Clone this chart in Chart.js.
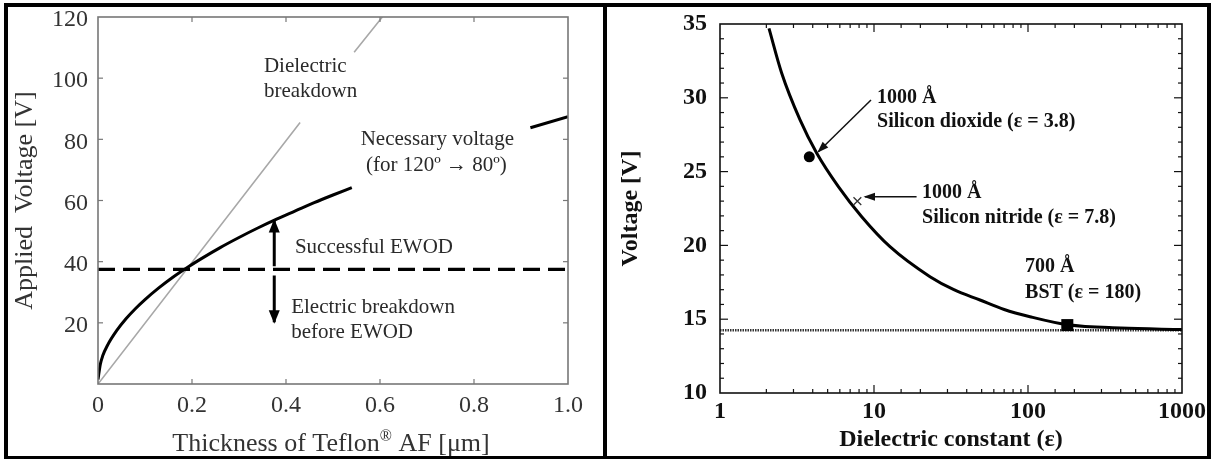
<!DOCTYPE html>
<html><head><meta charset="utf-8">
<script src="https://cdn.jsdelivr.net/npm/chart.js@4/dist/chart.umd.min.js"></script>
<style>
html,body{margin:0;padding:0;background:#fff;}
#wrap{position:relative;width:1212px;height:459px;overflow:hidden;background:#fff;}
#c1{position:absolute;left:0;top:0;}
#c2{position:absolute;left:604px;top:0;}
#frame{position:absolute;left:4px;top:3px;width:1207px;height:456px;box-sizing:border-box;border:4px solid #000;border-bottom-width:3px;pointer-events:none;}
#divider{position:absolute;left:603px;top:3px;width:4px;height:456px;background:#000;}
</style></head>
<body><div id="wrap"><canvas id="c1" width="604" height="459"></canvas><canvas id="c2" width="608" height="459"></canvas><div id="frame"></div><div id="divider"></div></div>
<script>
// ---------- LEFT PANEL DATA ----------
const thicknessTickLabels = ['0', '0.2', '0.4', '0.6', '0.8', '1.0'];
const voltageTickLabels = ['', '20', '40', '60', '80', '100', '120'];
const necessaryX = [0, 0.005, 0.01, 0.02, 0.04, 0.06, 0.08, 0.1, 0.13, 0.16, 0.19, 0.22, 0.26, 0.3, 0.34, 0.38, 0.42, 0.46, 0.5, 0.54, 0.7, 0.92, 1.0];
const necessaryY = [1.5, 6.5, 9.2, 12.6, 17.5, 21.4, 24.7, 27.6, 31.5, 35, 38.1, 41, 44.6, 47.9, 51, 53.9, 56.6, 59.3, 61.8, 64.2, null, 83.8, 87.4];
const breakdownX = [0, 0.43, 0.49, 0.545, 0.605];
const breakdownY = [0, 85.5, null, 108.5, 120];
const thresholdX = [0, 1.0];
const thresholdY = [37.5, 37.5];
const arrowUpX = [0.375, 0.375];
const arrowUpY = [38.5, 53.5];
const arrowDownX = [0.375, 0.375];
const arrowDownY = [35.5, 20.2];

// ---------- RIGHT PANEL DATA ----------
const epsTickLabels = {1: '1', 10: '10', 100: '100', 1000: '1000'};
const epsX = [2.08, 2.51, 3.31, 4.25, 5.87, 8.32, 12.7, 23.1, 33, 48.8, 70, 103, 182, 400, 1000];
const voltY = [34.7, 31.7, 28.5, 26.24, 23.98, 21.94, 19.91, 17.88, 17.0, 16.3, 15.66, 15.17, 14.62, 14.4, 14.3];
const limitX = [1, 1000];
const limitY = [14.25, 14.25];
const sio2 = [3.8, 26];
const sin = [7.8, 23];
const bst = [180, 14.6];
const sio2ArrowX = [9.56, 4.35];
const sio2ArrowY = [29.85, 26.35];
const sinArrowX = [18.9, 8.74];
const sinArrowY = [23.3, 23.3];

const pts = (xs, ys) => xs.map((x, i) => ({x: x, y: ys[i]}));

// ---------- annotations (text) ----------
const SERIF = "'Liberation Serif', 'Times New Roman', serif";
const leftNotes = [
  {text: 'Dielectric', x: 0.353, y: 103.7, align: 'left'},
  {text: 'breakdown', x: 0.353, y: 95.5, align: 'left'},
  {text: 'Necessary voltage', x: 0.722, y: 79.9, align: 'center'},
  {text: '(for 120\u00BA \u2192 80\u00BA)', x: 0.72, y: 71.6, align: 'center'},
  {text: 'Successful EWOD', x: 0.419, y: 44.8, align: 'left'},
  {text: 'Electric breakdown', x: 0.411, y: 24.9, align: 'left'},
  {text: 'before EWOD', x: 0.411, y: 16.7, align: 'left'}
];
const rightNotes = [
  {text: '1000 \u00C5', x: 10.46, y: 29.99, align: 'left'},
  {text: 'Silicon dioxide (\u03B5 = 3.8)', x: 10.46, y: 28.36, align: 'left'},
  {text: '1000 \u00C5', x: 20.5, y: 23.55, align: 'left'},
  {text: 'Silicon nitride (\u03B5 = 7.8)', x: 20.5, y: 21.86, align: 'left'},
  {text: '700 \u00C5', x: 95.7, y: 18.54, align: 'left'},
  {text: 'BST (\u03B5 = 180)', x: 95.7, y: 16.78, align: 'left'}
];
const leftXTitle = [
  {t: 'Thickness of Teflon', size: 26, rise: 0},
  {t: '\u00AE', size: 16, rise: 10},
  {t: ' AF [\u03BCm]', size: 26, rise: 0}
];

function makeDecor(cfg) {
  return {
    id: 'decor',
    afterDatasetsDraw(chart) {
      const ctx = chart.ctx, a = chart.chartArea, xs = chart.scales.x, ys = chart.scales.y;
      ctx.save();
      // arrowheads
      chart.data.datasets.forEach((ds, i) => {
        if (!ds.arrowHead) return;
        const d = chart.getDatasetMeta(i).data;
        const p1 = d[d.length - 2], p2 = d[d.length - 1];
        const ang = Math.atan2(p2.y - p1.y, p2.x - p1.x);
        const L = ds.arrowHead, W = ds.arrowWidth;
        const c = Math.cos(ang), s = Math.sin(ang);
        ctx.fillStyle = ds.borderColor;
        ctx.beginPath();
        ctx.moveTo(p2.x + c * 1.5, p2.y + s * 1.5);
        ctx.lineTo(p2.x - L * c + W / 2 * s, p2.y - L * s - W / 2 * c);
        ctx.lineTo(p2.x - L * c - W / 2 * s, p2.y - L * s + W / 2 * c);
        ctx.closePath();
        ctx.fill();
      });
      // box
      ctx.strokeStyle = cfg.boxColor;
      ctx.lineWidth = cfg.boxWidth;
      ctx.strokeRect(a.left, a.top, a.right - a.left, a.bottom - a.top);
      const seg = (x1, y1, x2, y2) => { ctx.beginPath(); ctx.moveTo(x1, y1); ctx.lineTo(x2, y2); ctx.stroke(); };
      ctx.lineWidth = cfg.tickWidth;
      xs.ticks.forEach(t => {
        const px = xs.getPixelForValue(t.value);
        if (px <= a.left + 1 || px >= a.right - 1) return;
        const major = cfg.logX ? Math.abs(Math.log10(t.value) - Math.round(Math.log10(t.value))) < 1e-6 : true;
        const L = major ? cfg.major : cfg.minor;
        seg(px, a.bottom, px, a.bottom - L);
        seg(px, a.top, px, a.top + L);
      });
      ys.ticks.forEach(t => {
        const py = ys.getPixelForValue(t.value);
        if (py <= a.top + 1 || py >= a.bottom - 1) return;
        const major = cfg.yMajorStep ? (Math.abs(t.value % cfg.yMajorStep) < 1e-6) : true;
        const L = major ? cfg.major : cfg.minor;
        seg(a.left, py, a.left + L, py);
        seg(a.right, py, a.right - L, py);
      });
      // text notes
      ctx.font = cfg.noteFont;
      ctx.fillStyle = cfg.noteColor;
      ctx.textBaseline = 'middle';
      cfg.notes.forEach(n => {
        ctx.textAlign = n.align;
        ctx.fillText(n.text, xs.getPixelForValue(n.x), ys.getPixelForValue(n.y));
      });
      // custom x title with superscript
      if (cfg.xTitle) {
        ctx.textAlign = 'left';
        ctx.textBaseline = 'alphabetic';
        ctx.fillStyle = cfg.titleColor;
        let total = 0;
        cfg.xTitle.forEach(p => { ctx.font = p.size + 'px ' + SERIF; total += ctx.measureText(p.t).width; });
        let x = (a.left + a.right) / 2 - total / 2 - 2;
        cfg.xTitle.forEach(p => {
          ctx.font = p.size + 'px ' + SERIF;
          ctx.fillText(p.t, x, cfg.xTitleBaseline - p.rise);
          x += ctx.measureText(p.t).width;
        });
      }
      ctx.restore();
    }
  };
}

function fixX(h) { return s => { s.height = h; s.paddingLeft = 0; s.paddingRight = 0; s.paddingTop = 0; s.paddingBottom = 0; }; }
function fixY(w) { return s => { s.width = w; s.paddingLeft = 0; s.paddingRight = 0; s.paddingTop = 0; s.paddingBottom = 0; }; }

const common = {
  responsive: false, animation: false, events: [],
  plugins: {legend: {display: false}, tooltip: {enabled: false}}
};

// ---------- LEFT CHART ----------
new Chart(document.getElementById('c1'), {
  type: 'scatter',
  data: {
    datasets: [
      {data: pts(arrowUpX, arrowUpY), showLine: true, borderColor: '#000', borderWidth: 3, pointRadius: 0, arrowHead: 12, arrowWidth: 11},
      {data: pts(arrowDownX, arrowDownY), showLine: true, borderColor: '#000', borderWidth: 3, pointRadius: 0, arrowHead: 12, arrowWidth: 11},
      {data: pts(necessaryX, necessaryY), showLine: true, borderColor: '#000', borderWidth: 3, pointRadius: 0, cubicInterpolationMode: 'monotone', spanGaps: false},
      {data: pts(thresholdX, thresholdY), showLine: true, borderColor: '#000', borderWidth: 3.2, borderDash: [17, 8], pointRadius: 0},
      {data: pts(breakdownX, breakdownY), showLine: true, borderColor: '#a8a8a8', borderWidth: 1.6, pointRadius: 0, spanGaps: false}
    ]
  },
  options: Object.assign({}, common, {
    layout: {padding: {left: 0, top: 17, right: 36, bottom: 0}},
    scales: {
      x: {
        type: 'linear', min: 0, max: 1, afterFit: fixX(75),
        grid: {display: false, drawTicks: false}, border: {display: false},
        ticks: {stepSize: 0.2, padding: 7, color: '#333', font: {family: SERIF, size: 24},
          autoSkip: false, maxRotation: 0,
          callback: (v, i) => thicknessTickLabels[i]},
        title: {display: false}
      },
      y: {
        type: 'linear', min: 0, max: 120, afterFit: fixY(98),
        grid: {display: false, drawTicks: false}, border: {display: false},
        ticks: {stepSize: 20, padding: 10, labelOffset: 3, color: '#333', font: {family: SERIF, size: 24},
          autoSkip: false, callback: (v, i) => voltageTickLabels[i]},
        title: {display: true, text: 'Applied  Voltage [V]', color: '#333',
          font: {family: SERIF, size: 26}, padding: {top: 10, bottom: 0}}
      }
    }
  }),
  plugins: [makeDecor({boxColor: '#777', boxWidth: 1.6, tickWidth: 1.2, major: 5, minor: 5, logX: false,
    notes: leftNotes, noteFont: '21px ' + SERIF, noteColor: '#2a2a2a',
    xTitle: leftXTitle, xTitleBaseline: 451, titleColor: '#333'})]
});

// ---------- RIGHT CHART ----------
new Chart(document.getElementById('c2'), {
  type: 'scatter',
  data: {
    datasets: [
      {data: [{x: sio2[0], y: sio2[1]}], pointStyle: 'circle', pointRadius: 5.5, backgroundColor: '#000', borderColor: '#000', borderWidth: 0},
      {data: [{x: sin[0], y: sin[1]}], pointStyle: 'crossRot', pointRadius: 5.5, borderColor: '#333', borderWidth: 1.3},
      {data: [{x: bst[0], y: bst[1]}], pointStyle: 'rect', pointRadius: 8.5, backgroundColor: '#000', borderColor: '#000', borderWidth: 0},
      {data: pts(sio2ArrowX, sio2ArrowY), showLine: true, borderColor: '#111', borderWidth: 1.5, pointRadius: 0, arrowHead: 10, arrowWidth: 8},
      {data: pts(sinArrowX, sinArrowY), showLine: true, borderColor: '#111', borderWidth: 1.5, pointRadius: 0, arrowHead: 10, arrowWidth: 8},
      {data: pts(epsX, voltY), showLine: true, borderColor: '#000', borderWidth: 3, pointRadius: 0, cubicInterpolationMode: 'monotone'},
      {data: pts(limitX, limitY), showLine: true, borderColor: '#333', borderWidth: 2.4, borderDash: [1.5, 1], pointRadius: 0}
    ]
  },
  options: Object.assign({}, common, {
    layout: {padding: {left: 0, top: 24, right: 30, bottom: 0}},
    scales: {
      x: {
        type: 'logarithmic', min: 1, max: 1000, afterFit: fixX(66),
        grid: {display: false, drawTicks: false}, border: {display: false},
        ticks: {padding: 4, color: '#111', font: {family: SERIF, size: 24, weight: 'bold'},
          autoSkip: false, maxRotation: 0,
          callback: v => epsTickLabels[v] || ''},
        title: {display: true, text: 'Dielectric constant (\u03B5)', color: '#111',
          font: {family: SERIF, size: 24, weight: 'bold'}, padding: {top: 0, bottom: 5}}
      },
      y: {
        type: 'linear', min: 10, max: 35, afterFit: fixY(116),
        grid: {display: false, drawTicks: false}, border: {display: false},
        ticks: {stepSize: 1, padding: 13, labelOffset: 0, color: '#111', font: {family: SERIF, size: 24, weight: 'bold'},
          autoSkip: false, callback: v => (v % 5 === 0 ? String(v) : '')},
        title: {display: true, text: 'Voltage [V]', color: '#111',
          font: {family: SERIF, size: 24, weight: 'bold'}, padding: {top: 12, bottom: 0}}
      }
    }
  }),
  plugins: [makeDecor({boxColor: '#111', boxWidth: 1.6, tickWidth: 1.2, major: 8, minor: 4, logX: true, yMajorStep: 5,
    notes: rightNotes, noteFont: 'bold 20px ' + SERIF, noteColor: '#111'})]
});
</script>
</body></html>
